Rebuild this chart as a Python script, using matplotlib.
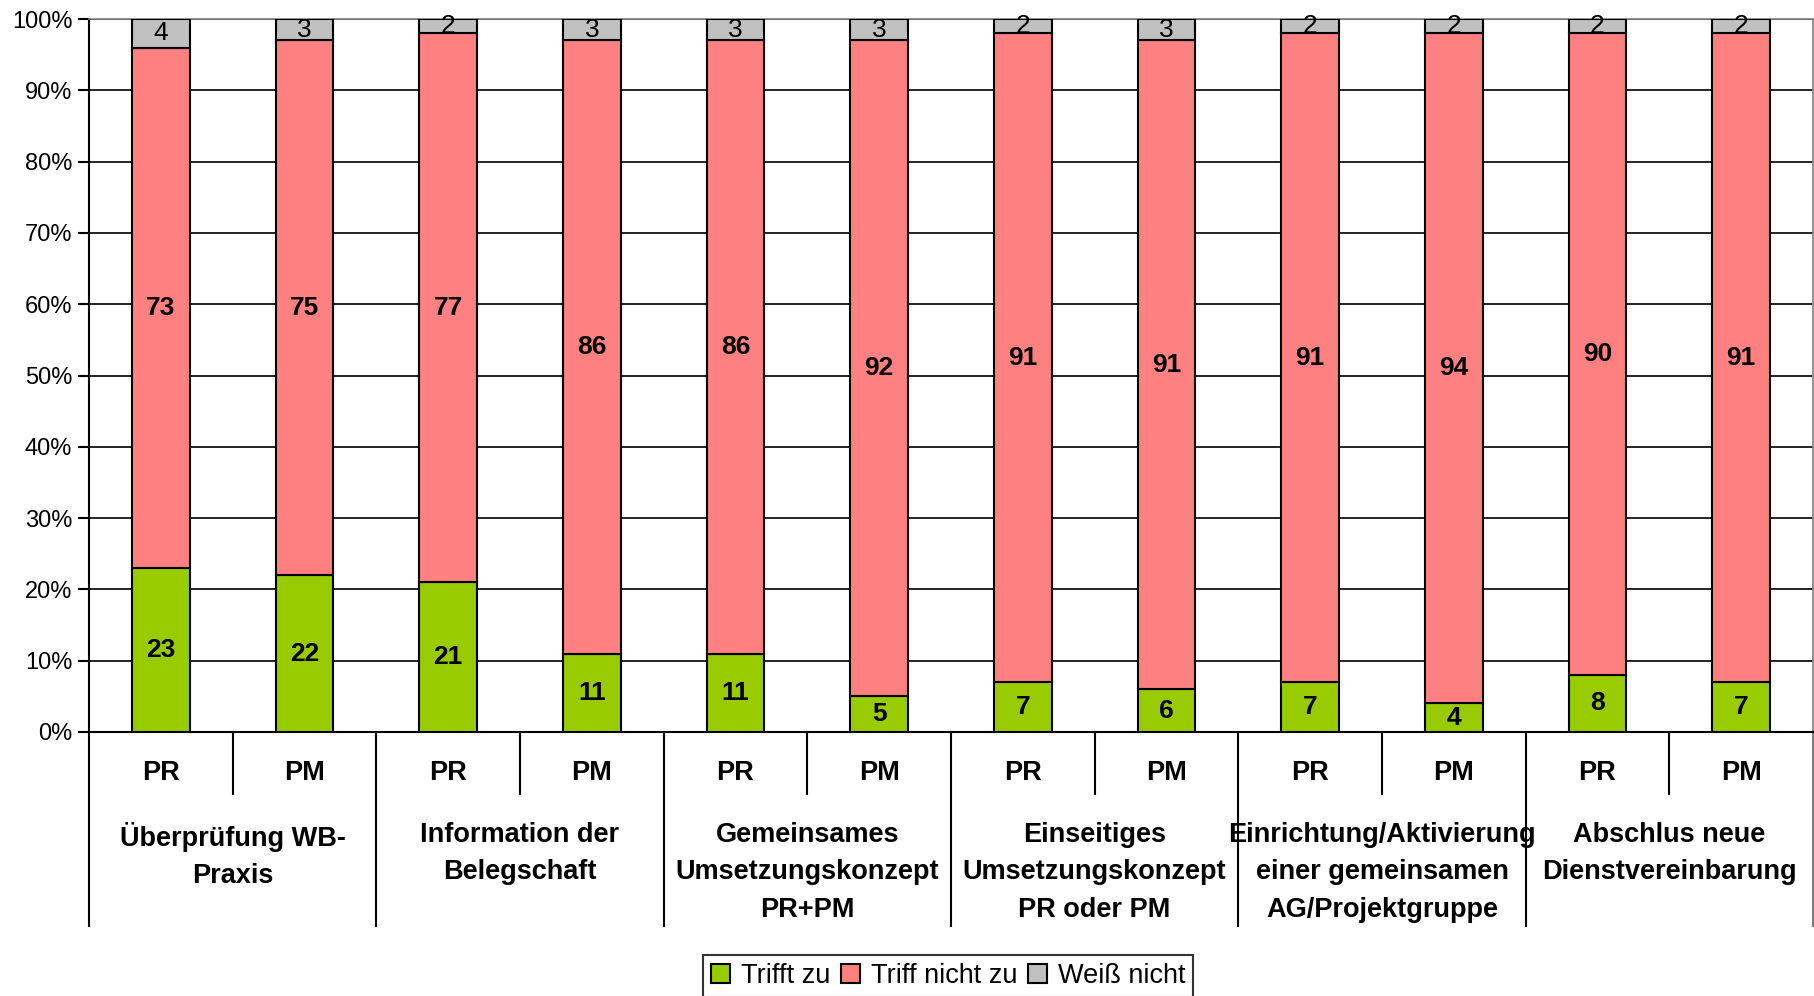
import matplotlib.pyplot as plt
import numpy as np

plt.rcParams['font.family'] = ['Liberation Sans', 'DejaVu Sans']

groups = ['Überprüfung WB-\nPraxis', 'Information der\nBelegschaft',
          'Gemeinsames\nUmsetzungskonzept\nPR+PM', 'Einseitiges\nUmsetzungskonzept\nPR oder PM',
          'Einrichtung/Aktivierung\neiner gemeinsamen\nAG/Projektgruppe',
          'Abschlus neue\nDienstvereinbarung']
subs = ['PR', 'PM']

trifft_zu = [23, 22, 21, 11, 11, 5, 7, 6, 7, 4, 8, 7]
trifft_nicht = [73, 75, 77, 86, 86, 92, 91, 91, 91, 94, 90, 91]
weiss_nicht = [4, 3, 2, 3, 3, 3, 2, 3, 2, 2, 2, 2]

series = [('Trifft zu', trifft_zu, '#99CC00', 'bold'),
          ('Triff nicht zu', trifft_nicht, '#FF8080', 'bold'),
          ('Weiß nicht', weiss_nicht, '#C0C0C0', 'normal')]

fig = plt.figure(figsize=(18.14, 9.96), dpi=100)
ax = fig.add_axes([89 / 1814, 264 / 996, 1724 / 1814, 713 / 996])

x = np.arange(len(trifft_zu))
bottom = np.zeros(len(x))
for name, vals, col, wt in series:
    vals = np.array(vals, dtype=float)
    ax.bar(x, vals, 0.4, bottom=bottom, color=col, edgecolor='black',
           linewidth=1.5, label=name, zorder=3)
    for xi, b, v in zip(x, bottom, vals):
        ax.text(xi, b + v / 2, '%d' % v, ha='center', va='center',
                fontsize=19, fontweight=wt, zorder=4)
    bottom += vals

ax.set_xlim(-0.5, len(x) - 0.5)
ax.set_ylim(0, 100)
ax.set_yticks(np.arange(0, 101, 10))
ax.set_yticklabels(['%d%%' % t for t in range(0, 101, 10)], fontsize=17)
ax.yaxis.grid(True, color='black', linewidth=1.2, zorder=0)
ax.tick_params(axis='y', length=8, width=1.5, pad=4)
ax.set_xticks([])
for s in ['top', 'right']:
    ax.spines[s].set_color('#808080')
    ax.spines[s].set_linewidth(1.2)
ax.spines['left'].set_linewidth(1.5)
ax.spines['bottom'].set_linewidth(1.5)

# two-level category axis below the plot
tr = ax.get_xaxis_transform()
for i in range(len(x)):
    ax.text(x[i], -0.058, subs[i % 2], transform=tr, ha='center', va='center',
            fontsize=19.5, fontweight='bold')
for b in np.arange(0.5, len(x) - 0.5, 2):
    ax.plot([b, b], [0, -0.087], transform=tr, color='black', lw=1.5, clip_on=False)
for b in np.arange(-0.5, len(x) + 0.5, 2):
    c = '#808080' if b > len(x) - 1 else 'black'
    ax.plot([b, b], [0, -0.272], transform=tr, color=c, lw=1.5, clip_on=False)
for g, name in enumerate(groups):
    ax.text(2 * g + 0.5, -0.126, name, transform=tr, ha='center', va='top',
            fontsize=19.5, fontweight='bold', linespacing=1.57)

leg = fig.legend(loc='center', bbox_to_anchor=(948 / 1814, 1 - 976 / 996), ncol=3,
                 fontsize=19.5, frameon=True, fancybox=False, edgecolor='black',
                 handlelength=0.7, handleheight=0.7, handletextpad=0.4,
                 columnspacing=0.4, borderpad=0.3, borderaxespad=0)
leg.get_frame().set_linewidth(1.5)

fig.savefig('out.png', dpi=100)
